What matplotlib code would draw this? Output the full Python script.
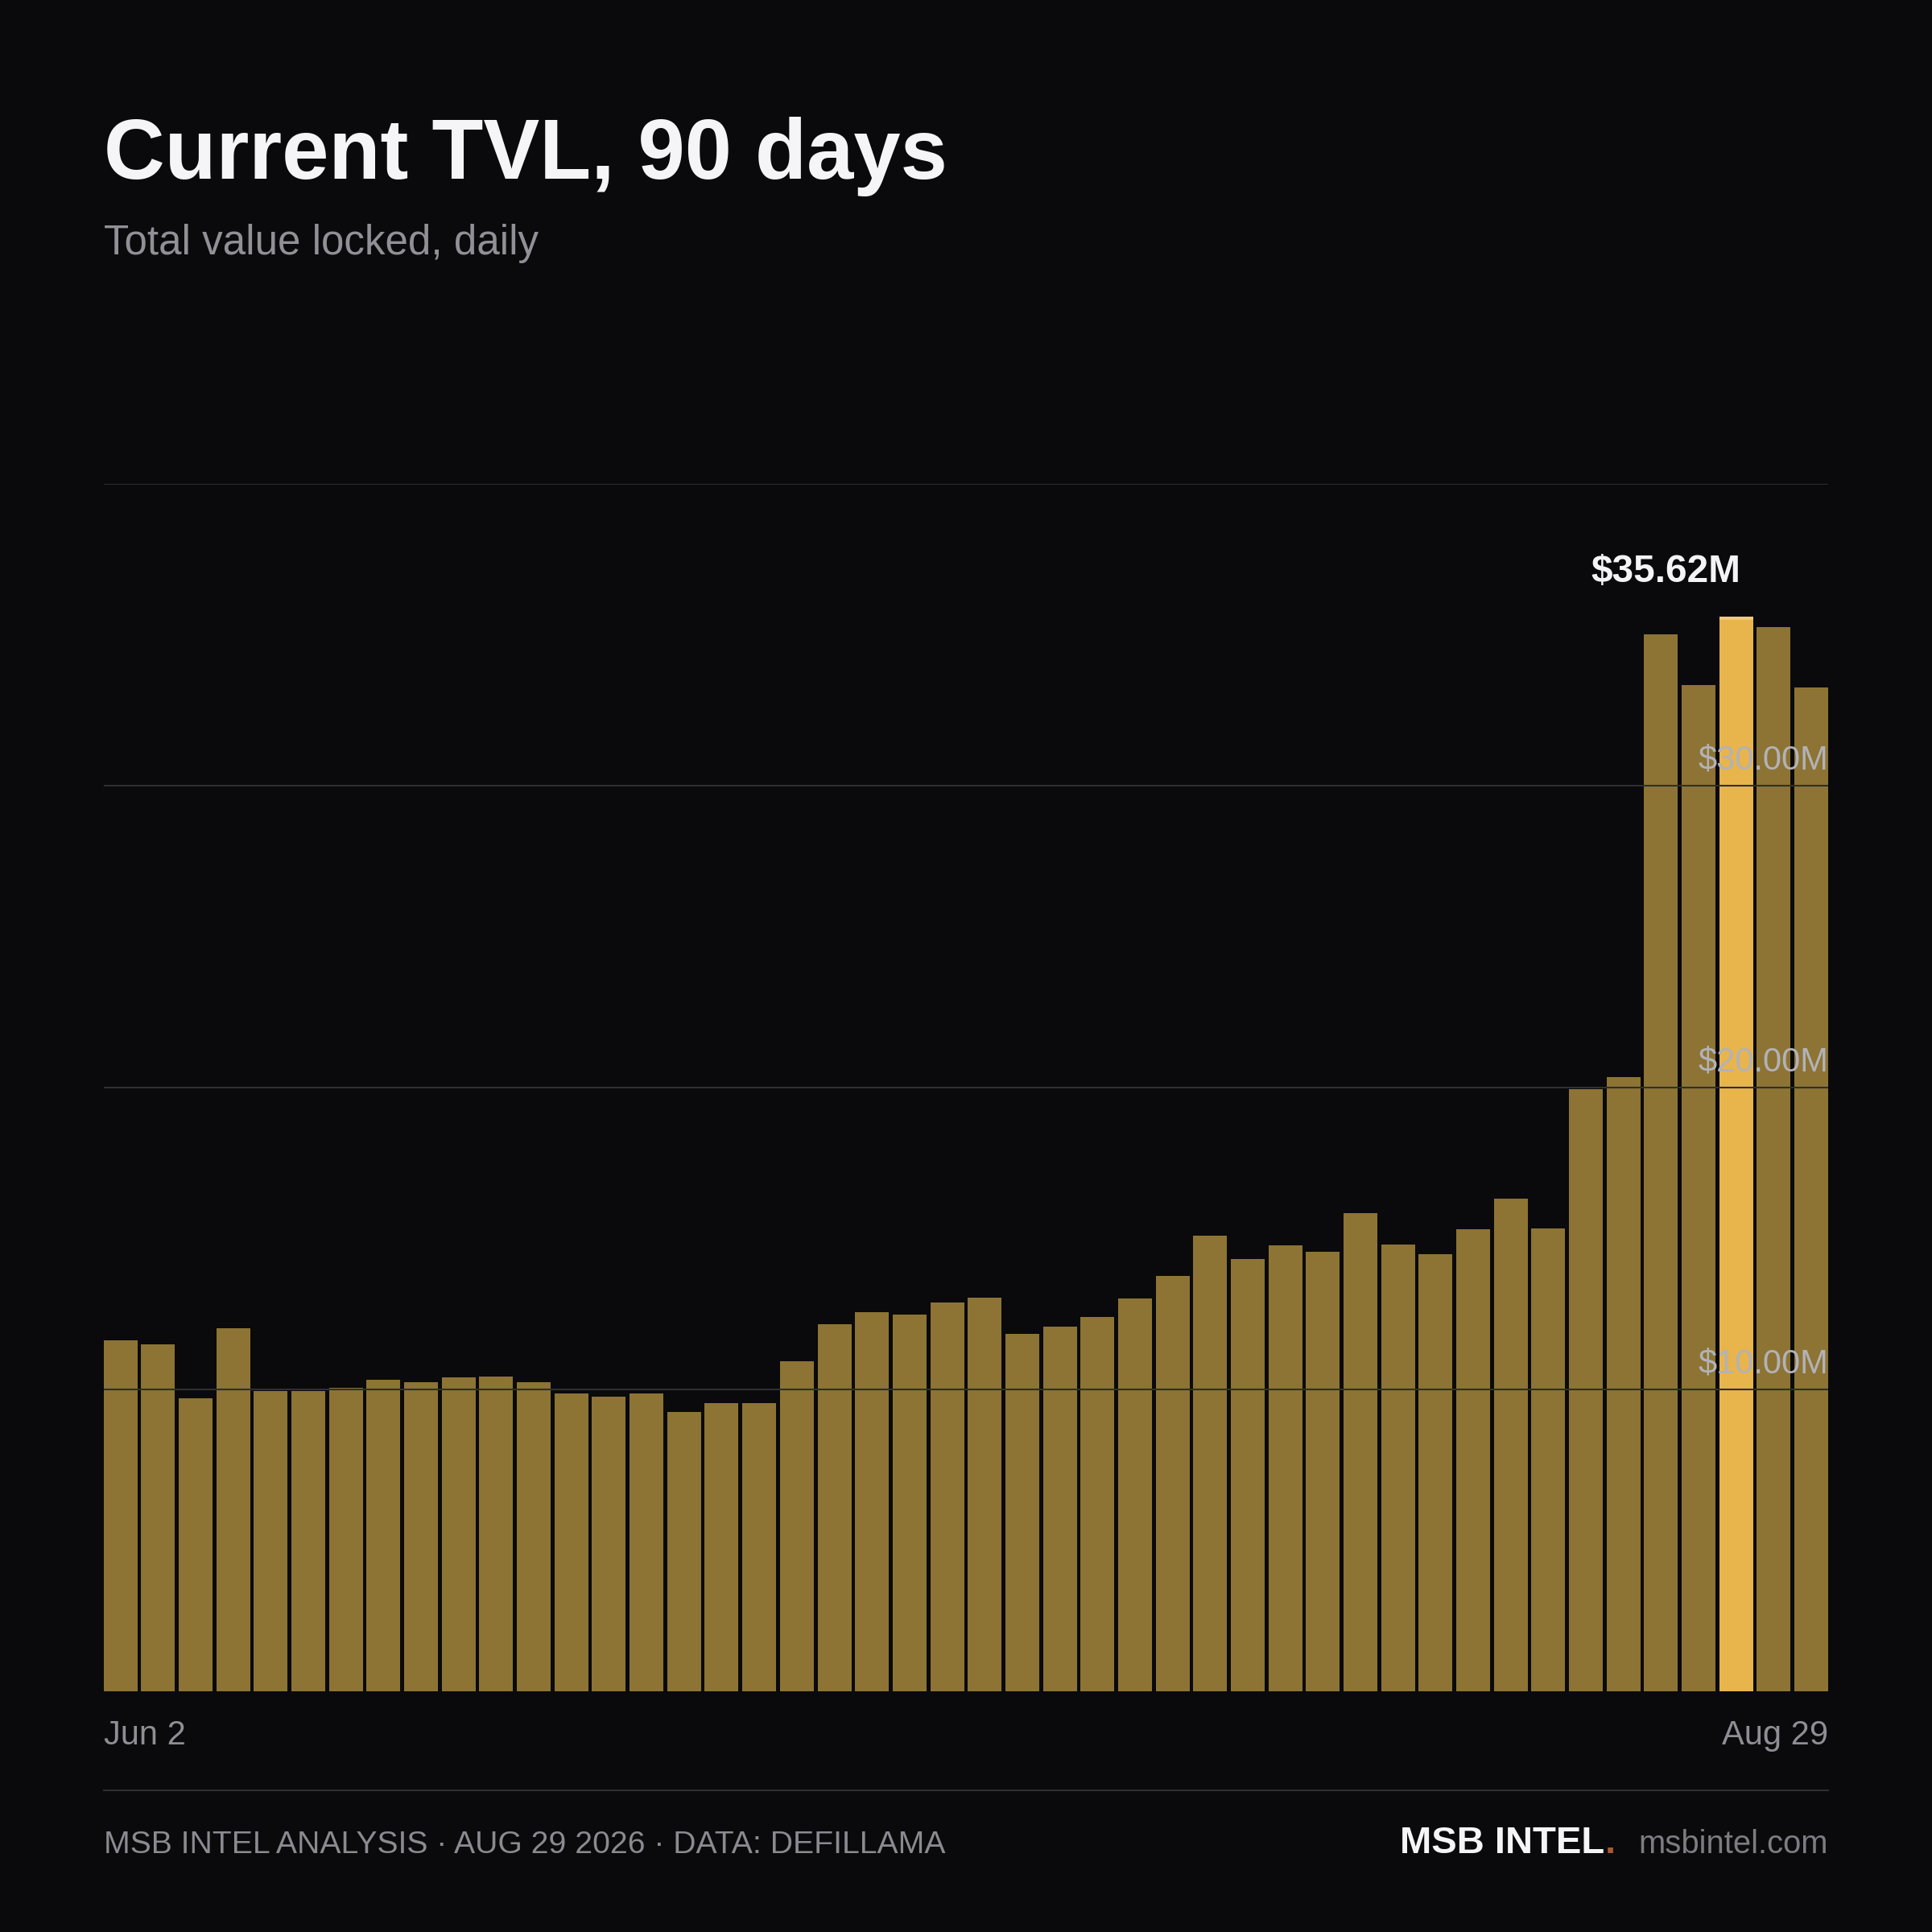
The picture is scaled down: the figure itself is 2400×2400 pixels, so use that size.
import matplotlib
matplotlib.use("Agg")
import matplotlib.pyplot as plt
import matplotlib.transforms as mtransforms
from matplotlib.lines import Line2D

# ---------------- data ----------------
title = "Current TVL, 90 days"
subtitle = "Total value locked, daily"
tvl_musd = [11.63, 11.51, 9.71, 12.04, 9.97, 9.97, 10.06, 10.33, 10.24, 10.41,
            10.45, 10.24, 9.88, 9.76, 9.88, 9.27, 9.55, 9.55, 10.94, 12.16,
            12.57, 12.49, 12.90, 13.06, 11.84, 12.08, 12.41, 13.02, 13.76, 15.10,
            14.33, 14.78, 14.57, 15.84, 14.82, 14.49, 15.31, 16.33, 15.35, 19.95,
            20.37, 35.02, 33.35, 35.62, 35.27, 33.27]
x_edge_labels = ["Jun 2", "Aug 29"]
grid_values = [10, 20, 30, 40]
ytick_values = [10, 20, 30]
ytick_labels = ["$10.00M", "$20.00M", "$30.00M"]
footer_left = "MSB INTEL ANALYSIS \u00b7 AUG 29 2026 \u00b7 DATA: DEFILLAMA"
brand = "MSB INTEL"
site = "msbintel.com"

# ---------------- style ----------------
plt.rcParams["font.family"] = ["Liberation Sans", "DejaVu Sans"]
BG = "#0a0a0c"
BAR = "#8d7434"
HL = "#e8b44c"
HL_TOP = "#efc97c"
GRID = "#2e2e33"
TICK = "#b2b2b7"

fig = plt.figure(figsize=(12, 12), dpi=200, facecolor=BG)
L, R = 0.0536, 0.9463
ax = fig.add_axes([L, 0.1244, R - L, 0.6250])
ax.set_facecolor(BG)

n = len(tvl_musd)
imax = max(range(n), key=lambda i: tvl_musd[i])
xs = list(range(n))
colors = [HL if i == imax else BAR for i in xs]
ax.bar(xs, tvl_musd, width=0.9, color=colors, linewidth=0, zorder=2)
ax.bar([imax], [0.12], bottom=[tvl_musd[imax] - 0.12], width=0.9,
       color=HL_TOP, linewidth=0, zorder=2.5)

ax.set_xlim(-0.45, n - 0.55)
ax.set_ylim(0, 40)
for s in ax.spines.values():
    s.set_visible(False)
ax.set_xticks([])
ax.set_yticks([])

for v in grid_values:
    ax.axhline(v, color=GRID, lw=0.75, zorder=3)

trans = mtransforms.blended_transform_factory(ax.transAxes, ax.transData)
for v, lab in zip(ytick_values, ytick_labels):
    ax.annotate(lab, xy=(1, v), xycoords=trans, xytext=(0, 7.5),
                textcoords="offset points", ha="right", va="baseline",
                fontsize=15, color=TICK, zorder=4)

peak = tvl_musd[imax]
ax.annotate(f"${peak:.2f}M", xy=(imax + 0.13, peak), xytext=(0, 15.5),
            textcoords="offset points", ha="right", va="baseline",
            fontsize=17.2, fontweight="bold", color="#f4f4f6", zorder=5,
            annotation_clip=False)

ax.annotate(x_edge_labels[0], xy=(0, 0), xycoords="axes fraction",
            xytext=(0, -23.5), textcoords="offset points", ha="left",
            va="baseline", fontsize=15, color="#8e8e94")
ax.annotate(x_edge_labels[1], xy=(1, 0), xycoords="axes fraction",
            xytext=(0, -23.5), textcoords="offset points", ha="right",
            va="baseline", fontsize=15, color="#8e8e94")

# titles
fig.text(L, 0.9075, title, fontsize=37.7, fontweight="bold", color="#f5f5f7",
         va="baseline", ha="left")
fig.text(L, 0.8685, subtitle, fontsize=18.4, color="#909096",
         va="baseline", ha="left")

# footer
fig.add_artist(Line2D([L, R], [0.0733, 0.0733], color=GRID, lw=0.75))
FY = 0.0408
fig.text(L, FY, footer_left, fontsize=14.08, color="#8a8a90", va="baseline", ha="left")
site_t = fig.text(R, FY, site, fontsize=14.4, color="#7c7c82", va="baseline", ha="right")
dot_t = fig.text(0.8361, FY, ".", fontsize=17, fontweight="bold",
                 color="#a65a32", va="baseline", ha="right")
renderer = fig.canvas.get_renderer()
bb = dot_t.get_window_extent(renderer)
x_brand = fig.transFigure.inverted().transform((bb.x0, 0))[0]
fig.text(x_brand, FY, brand, fontsize=17, fontweight="bold", color="#f5f5f7",
         va="baseline", ha="right")

fig.savefig("out.png", dpi=200, facecolor=BG)
